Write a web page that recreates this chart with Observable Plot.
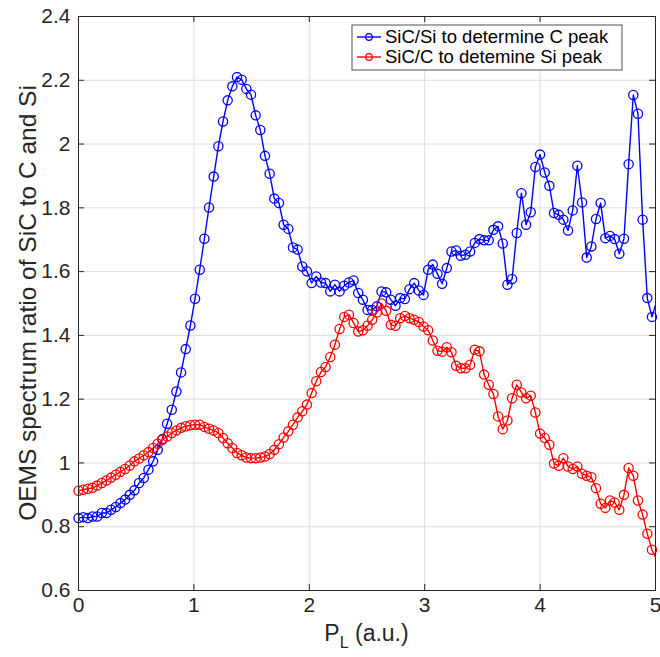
<!DOCTYPE html>
<html>
<head>
<meta charset="utf-8">
<script src="https://cdn.jsdelivr.net/npm/d3@7"></script>
<script src="https://cdn.jsdelivr.net/npm/@observablehq/plot@0.6"></script>
<style>
  html, body { margin: 0; padding: 0; background: #fff; }
  #chart { width: 660px; height: 657px; }
</style>
</head>
<body>
<div id="chart"></div>
<script>
// Sample spacing of the measurement grid (P_L, a.u.)
const X_STEP = 0.0404;

// SiC/Si to determine C peak (blue)
const blueValues = [
  0.827, 0.830, 0.827, 0.832, 0.832, 0.843, 0.843, 0.853, 0.862, 0.874,
  0.885, 0.900, 0.914, 0.937, 0.953, 0.979, 1.005, 1.041, 1.075, 1.123,
  1.167, 1.224, 1.284, 1.357, 1.431, 1.515, 1.606, 1.703, 1.801, 1.898,
  1.993, 2.071, 2.137, 2.181, 2.210, 2.202, 2.173, 2.155, 2.090, 2.044,
  1.963, 1.907, 1.829, 1.815, 1.747, 1.734, 1.676, 1.669, 1.616, 1.601,
  1.564, 1.585, 1.566, 1.564, 1.538, 1.559, 1.538, 1.556, 1.566, 1.572,
  1.533, 1.512, 1.480, 1.480, 1.491, 1.538, 1.535, 1.512, 1.493, 1.517,
  1.514, 1.545, 1.564, 1.541, 1.527, 1.606, 1.622, 1.593, 1.562, 1.611,
  1.663, 1.666, 1.650, 1.653, 1.663, 1.690, 1.702, 1.698, 1.698, 1.731,
  1.742, 1.688, 1.559, 1.577, 1.721, 1.846, 1.747, 1.786, 1.928, 1.967,
  1.911, 1.869, 1.784, 1.778, 1.763, 1.729, 1.792, 1.932, 1.817, 1.644,
  1.679, 1.765, 1.815, 1.705, 1.712, 1.702, 1.656, 1.703, 1.937, 2.154,
  2.095, 1.763, 1.517, 1.458, 1.507
];

// SiC/C to detemine Si peak (red)
const redValues = [
  0.913, 0.916, 0.919, 0.922, 0.929, 0.937, 0.945, 0.954, 0.963, 0.972,
  0.981, 0.992, 1.005, 1.014, 1.024, 1.034, 1.047, 1.060, 1.073, 1.083,
  1.094, 1.102, 1.110, 1.115, 1.118, 1.120, 1.120, 1.113, 1.107, 1.102,
  1.094, 1.078, 1.062, 1.047, 1.031, 1.024, 1.017, 1.015, 1.015, 1.017,
  1.020, 1.028, 1.041, 1.059, 1.080, 1.099, 1.120, 1.143, 1.162, 1.183,
  1.219, 1.256, 1.285, 1.301, 1.332, 1.371, 1.420, 1.458, 1.465, 1.439,
  1.412, 1.416, 1.430, 1.449, 1.472, 1.500, 1.477, 1.433, 1.430, 1.454,
  1.461, 1.454, 1.449, 1.442, 1.428, 1.416, 1.384, 1.352, 1.349, 1.363,
  1.347, 1.305, 1.297, 1.297, 1.308, 1.355, 1.350, 1.277, 1.245, 1.216,
  1.146, 1.106, 1.133, 1.203, 1.245, 1.221, 1.203, 1.211, 1.158, 1.092,
  1.078, 1.057, 0.998, 0.991, 1.015, 0.989, 0.981, 0.989, 0.966, 0.960,
  0.955, 0.921, 0.872, 0.859, 0.882, 0.876, 0.853, 0.900, 0.984, 0.960,
  0.882, 0.838, 0.778, 0.728, 0.697
];

const xTickValues = [0, 1, 2, 3, 4, 5];
const yTickValues = [0.6, 0.8, 1, 1.2, 1.4, 1.6, 1.8, 2, 2.2, 2.4];
const seriesNames = ["SiC/Si to determine C peak", "SiC/C to detemine Si peak"];
const seriesColors = ["#0000ff", "#ff0000"];
const xLabelMain = "P";
const xLabelSub = "L";
const xLabelRest = " (a.u.)";
const yLabel = "OEMS spectrum ratio of SiC to C and Si";

const blue = blueValues.map((v, i) => ({x: i * X_STEP, y: v}));
const red = redValues.map((v, i) => ({x: i * X_STEP, y: v}));
const inside = d => d.x <= 5;

const W = 660, H = 657, mL = 78, mR = 5, mT = 16, mB = 67;
const pw = W - mL - mR, ph = H - mT - mB;
const axisColor = "#262626";
const fontFamily = "'Liberation Sans', Arial, Helvetica, sans-serif";

const chart = Plot.plot({
  width: W, height: H,
  marginLeft: mL, marginRight: mR, marginTop: mT, marginBottom: mB,
  style: {fontFamily, fontSize: "21px", color: axisColor, background: "#fff", overflow: "visible"},
  x: {domain: [0, 5]},
  y: {domain: [0.6, 2.4]},
  marks: [
    Plot.gridX(xTickValues, {stroke: "#dedede", strokeOpacity: 1, strokeWidth: 1}),
    Plot.gridY(yTickValues, {stroke: "#dedede", strokeOpacity: 1, strokeWidth: 1}),
    Plot.line(blue, {x: "x", y: "y", stroke: seriesColors[0], strokeWidth: 1.4, clip: true}),
    Plot.dot(blue.filter(inside), {x: "x", y: "y", r: 4.6, stroke: seriesColors[0], fill: "none", strokeWidth: 1.3}),
    Plot.line(red, {x: "x", y: "y", stroke: seriesColors[1], strokeWidth: 1.4, clip: true}),
    Plot.dot(red.filter(inside), {x: "x", y: "y", r: 4.6, stroke: seriesColors[1], fill: "none", strokeWidth: 1.3}),
    Plot.frame({stroke: axisColor, strokeWidth: 1}),
    Plot.tickX(xTickValues, {x: d => d, insetTop: ph - 6, stroke: axisColor}),
    Plot.tickX(xTickValues, {x: d => d, insetBottom: ph - 6, stroke: axisColor}),
    Plot.tickY(yTickValues, {y: d => d, insetRight: pw - 6, stroke: axisColor}),
    Plot.tickY(yTickValues, {y: d => d, insetLeft: pw - 6, stroke: axisColor}),
    Plot.axisX(xTickValues, {tickSize: 0, tickPadding: 7, label: null, fontSize: 21,
      tickFormat: d => String(d)}),
    Plot.axisY(yTickValues, {tickSize: 0, tickPadding: 8, label: null, fontSize: 21,
      tickFormat: d => String(+d.toFixed(1))})
  ]
});

document.getElementById("chart").appendChild(chart);

// Axis labels and legend
const svg = d3.select(chart);

const xl = svg.append("text")
  .attr("x", mL + pw / 2).attr("y", 641)
  .attr("text-anchor", "middle")
  .attr("fill", axisColor)
  .style("font-family", fontFamily).style("font-size", "23px");
xl.append("tspan").text(xLabelMain);
xl.append("tspan").attr("dy", 7).style("font-size", "16px").text(xLabelSub);
xl.append("tspan").attr("dy", -7).text(xLabelRest);

svg.append("text")
  .attr("transform", `translate(36,${mT + ph / 2}) rotate(-90)`)
  .attr("text-anchor", "middle")
  .attr("fill", axisColor)
  .style("font-family", fontFamily).style("font-size", "24.5px")
  .text(yLabel);

const lg = svg.append("g");
lg.append("rect")
  .attr("x", 352).attr("y", 25).attr("width", 270).attr("height", 45)
  .attr("fill", "#fff").attr("stroke", axisColor).attr("stroke-width", 0.8);
seriesNames.forEach((name, i) => {
  const cy = 37 + i * 20;
  lg.append("line").attr("x1", 357).attr("x2", 381).attr("y1", cy).attr("y2", cy)
    .attr("stroke", seriesColors[i]).attr("stroke-width", 1.4);
  lg.append("circle").attr("cx", 369).attr("cy", cy).attr("r", 3.3)
    .attr("fill", "none").attr("stroke", seriesColors[i]).attr("stroke-width", 1.2);
  lg.append("text").attr("x", 385).attr("y", cy).attr("dy", "0.35em")
    .attr("text-anchor", "start")
    .attr("fill", "#000")
    .style("font-family", fontFamily).style("font-size", "18.5px")
    .text(name);
});
</script>
</body>
</html>
